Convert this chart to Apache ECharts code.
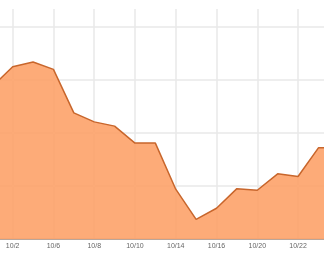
<!DOCTYPE html>
<html>
<head>
<meta charset="utf-8">
<script src="https://cdn.jsdelivr.net/npm/echarts@6/dist/echarts.min.js"></script>
<style>html,body{margin:0;padding:0;background:#fff;}#c{width:324px;height:262px;}</style>
</head>
<body>
<div id="c"></div>
<script>
var categories = ['10/1','10/2','10/3','10/6','10/7','10/8','10/9','10/10','10/13','10/14','10/15','10/16','10/17','10/20','10/21','10/22','10/23','10/24'];
var values = [28.8, 32.5, 33.4, 32.0, 23.8, 22.1, 21.3, 18.1, 18.1, 9.4, 3.7, 5.8, 9.5, 9.2, 12.3, 11.8, 17.2, 17.2];
var yTicks = [0, 10, 20, 30, 40];

var chart = echarts.init(document.getElementById('c'), null, {renderer: 'canvas'});
var everyOther = function (i) { return i % 2 === 1; };
chart.setOption({
  animation: false,
  grid: {left: -7.7, right: -14.8, top: 9, bottom: 23, outerBoundsMode: 'none', containLabel: false},
  xAxis: {
    type: 'category',
    data: categories,
    boundaryGap: false,
    axisLine: {show: true, lineStyle: {color: '#a88e7e', width: 1.5}},
    axisTick: {show: false},
    axisLabel: {interval: everyOther, fontSize: 7, color: '#666', fontFamily: 'Liberation Sans, Arial, sans-serif', margin: 4},
    splitLine: {show: true, interval: everyOther, lineStyle: {color: '#e8e8e8', width: 1.5}}
  },
  yAxis: {
    type: 'value',
    min: yTicks[0],
    max: 43.4,
    interval: yTicks[1] - yTicks[0],
    axisLine: {show: false},
    axisTick: {show: false},
    axisLabel: {show: false},
    splitLine: {show: true, showMaxLine: false, lineStyle: {color: '#e8e8e8', width: 1.5}}
  },
  series: [{
    type: 'line',
    data: values,
    symbol: 'none',
    lineStyle: {color: '#c8662c', width: 1.5},
    areaStyle: {color: '#fda56e', opacity: 0.93}
  }]
});
</script>
</body>
</html>
